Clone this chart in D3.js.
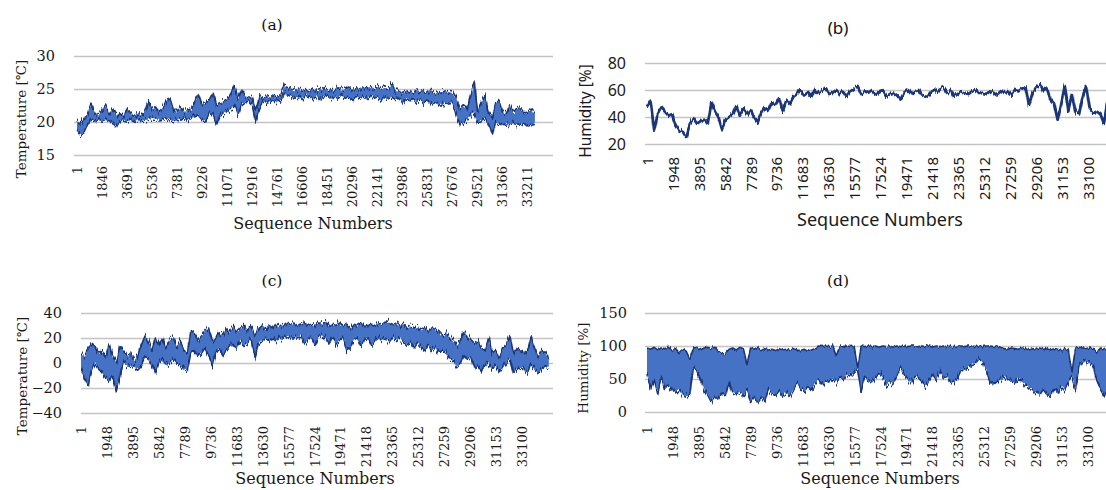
<!DOCTYPE html>
<html>
<head>
<meta charset="utf-8">
<script src="https://cdn.jsdelivr.net/npm/d3@7"></script>
<style>
  body { margin: 0; background: #fff; }
</style>
</head>
<body>
<svg id="chart" width="1106" height="490"></svg>
<script>
// (a) indoor temperature, one high/low pair every 264 sequence numbers
const tempInStep = 264;
const tempInHigh = [20.3,19.6,20.6,21.2,22.8,21.3,21.0,21.8,22.4,21.1,22.0,21.0,21.4,21.0,22.0,21.2,21.0,21.3,21.1,21.5,
  23.2,22.0,22.4,21.6,22.2,23.3,23.5,22.0,21.5,22.3,21.4,22.0,21.8,23.2,24.2,22.6,22.8,23.4,24.5,22.5,
  22.8,23.2,23.5,24.3,25.6,23.6,24.9,23.9,23.8,23.7,21.8,23.8,23.6,24.0,23.7,24.0,23.8,24.0,25.4,25.2,
  24.9,24.8,25.0,24.8,24.9,24.7,25.0,24.8,24.9,25.1,24.8,25.0,24.8,25.2,24.9,25.0,25.3,24.9,25.2,25.0,
  25.3,25.0,25.2,25.0,25.3,24.9,25.2,25.0,25.8,24.7,24.6,24.5,24.7,24.6,24.4,24.7,24.5,24.6,24.5,24.8,
  24.4,24.6,24.5,24.7,24.5,24.4,23.6,22.0,22.5,22.0,24.0,25.9,21.8,23.0,24.0,21.6,20.8,22.8,23.3,21.5,
  21.2,22.6,21.3,22.0,22.1,21.4,21.5,21.8,21.2];
const tempInLow = [18.6,18.0,18.4,19.6,20.3,20.2,20.3,20.1,20.4,20.2,19.9,19.2,20.2,20.3,20.1,20.3,20.0,20.4,20.2,20.3,
  20.4,20.6,20.5,20.3,20.4,20.5,20.3,20.2,20.4,20.3,20.5,20.2,20.6,20.8,21.0,20.3,20.0,21.3,21.0,19.6,
  21.0,21.4,21.5,21.8,22.5,21.0,22.6,23.0,23.2,22.6,20.0,22.0,23.2,23.0,23.2,23.1,23.1,23.2,24.2,24.1,
  23.8,23.6,23.8,23.4,24.0,23.8,23.5,23.9,23.4,23.8,24.0,23.5,23.8,23.6,24.0,23.6,23.8,23.3,23.9,23.6,
  23.8,23.4,23.9,23.6,23.8,23.3,23.7,23.5,23.8,23.4,23.6,22.9,23.5,23.1,23.6,23.0,23.4,22.8,23.3,22.7,
  22.9,22.6,22.6,22.7,22.9,23.0,21.2,19.6,19.8,20.3,21.0,21.5,19.9,20.2,20.6,19.7,18.1,19.9,19.7,19.6,
  19.7,19.6,19.8,19.6,19.5,19.8,19.3,19.6,19.6];

// (b) indoor humidity, one value every 268 sequence numbers
const humInStep = 268;
const humIn = [47,52,30,42,47,44,41,42,34,30,29,25,35,39,35,37,38,35,51,44,
  40,31,38,40,42,48,41,46,42,45,40,36,43,47,45,51,49,54,44,52,
  50,55,57,60,56,58,55,60,57,59,61,57,58,60,57,59,55,59,61,63,
  57,59,58,60,57,59,60,55,57,58,56,53,58,60,57,59,60,56,55,57,
  60,59,61,62,58,60,55,57,59,58,57,59,60,57,58,57,59,58,56,58,
  60,58,56,60,59,61,62,49,58,62,64,59,61,53,50,38,50,63,45,57,
  43,42,55,63,46,43,44,42,35,52,48];

// (c) outdoor temperature, one high/low pair every 266 sequence numbers
const tempOutStep = 266;
const tempOutHigh = [8,5,12,15,13,8,10,5,15,5,0,14,10,5,8,3,6,15,22,18,
  10,20,15,20,12,18,20,12,18,10,8,26,24,18,22,26,28,18,20,25,
  22,28,24,30,25,28,30,26,30,22,28,30,27,30,28,31,29,30,32,31,
  32,30,31,32,30,31,30,32,31,33,30,31,30,32,30,31,28,31,30,32,
  29,30,31,30,32,31,33,32,31,32,30,31,28,30,28,29,26,28,26,28,
  27,25,22,24,20,18,14,18,25,22,18,15,18,12,10,20,8,10,5,12,
  15,22,8,12,10,8,10,21,12,5,10,8,5];
const tempOutLow = [-5,-12,-18,-5,0,-5,-8,-12,-15,-10,-22,-10,0,-2,-3,-3,-5,-2,5,3,
  -3,-8,0,2,-2,0,3,0,-2,-5,-6,8,10,5,8,12,5,-3,8,12,
  5,10,14,14,12,18,14,16,20,5,15,18,20,18,20,17,20,19,22,20,
  20,21,22,16,18,20,14,21,22,20,15,20,14,18,20,10,12,19,20,14,
  18,20,14,18,20,18,19,17,20,18,20,17,14,16,12,16,12,10,14,10,
  12,8,10,8,3,2,-3,0,5,3,4,-5,-3,-7,-3,0,-5,-2,-7,-4,
  0,3,-8,-5,-3,-5,-8,-2,-5,-8,-5,-3,-3];

// (d) outdoor humidity, one high/low pair every 268 sequence numbers
const humOutStep = 268;
const humOutHigh = [97,95,98,94,97,96,98,93,96,90,95,92,80,97,98,94,97,98,96,98,
  92,88,89,95,97,94,98,96,72,97,95,98,93,96,94,95,93,96,94,95,
  93,96,94,93,95,92,94,96,100,99,100,99,100,85,100,99,100,99,100,68,
  100,99,100,99,100,98,100,99,100,98,100,99,100,99,100,100,99,100,99,100,
  98,100,99,100,99,100,99,100,100,99,100,100,99,100,99,100,100,99,100,98,
  96,95,97,96,95,97,96,94,96,95,97,95,96,94,96,95,93,96,94,60,
  97,98,97,96,97,96,90,97,95,94,96];
const humOutLow = [59,34,49,29,54,34,39,31,29,34,26,24,26,69,62,49,34,24,16,24,
  19,29,24,46,29,26,29,24,34,16,24,14,21,16,34,29,26,31,24,29,
  24,34,44,36,31,39,34,44,49,41,46,44,49,46,52,49,57,54,59,64,
  31,54,46,44,52,59,54,41,46,44,54,67,57,49,44,54,52,46,39,46,
  57,49,62,52,54,44,46,52,64,64,67,72,74,79,74,64,44,41,46,49,
  54,49,46,44,52,46,41,36,34,29,26,34,26,24,36,29,39,34,44,54,
  34,69,74,77,74,69,46,34,24,44,49];

// category labels shown under each chart
const seqTicksA = [1,1846,3691,5536,7381,9226,11071,12916,14761,16606,18451,20296,22141,23986,25831,27676,29521,31366,33211];
const seqTicksB = [1,1948,3895,5842,7789,9736,11683,13630,15577,17524,19471,21418,23365,25312,27259,29206,31153,33100];

const tempInTicks = [15,20,25,30];
const humInTicks = [20,40,60,80];
const tempOutTicks = [-40,-20,0,20,40];
const humOutTicks = [0,50,100,150];

const serif = '"DejaVu Serif", "Liberation Serif", serif';
const sans = '"Noto Sans", "Open Sans", sans-serif';

const toRows = (step, hi, lo) => hi.map((v, i) => ({ seq: 1 + i * step, hi: v, lo: lo ? lo[i] : v }));

const panels = [
  { key: 'a', title: '(a)', font: serif, titleX: 272, titleY: 30,
    left: 74, right: 553, x0: 77, x1: 527, lastTick: 33211, xTicks: seqTicksA, xAxisY: 164,
    yDomain: [15, 30], yRange: [155, 56], yTicks: tempInTicks, yPad: 19,
    yLabel: 'Temperature [℃]', yLabelX: 21, yLabelY: 119,
    xLabelX: 313, xLabelY: 229, rows: toRows(tempInStep, tempInHigh, tempInLow), band: true, spikyTop: true },
  { key: 'b', title: '(b)', font: sans, titleX: 838, titleY: 34,
    left: 645, right: 1106, x0: 647, x1: 1088, lastTick: 33100, xTicks: seqTicksB, xAxisY: 155,
    yDomain: [20, 80], yRange: [144, 63], yTicks: humInTicks, yPad: 19,
    yLabel: 'Humidity [%]', yLabelX: 586, yLabelY: 111,
    xLabelX: 880, xLabelY: 226, rows: toRows(humInStep, humIn), band: false },
  { key: 'c', title: '(c)', font: serif, titleX: 272, titleY: 286,
    left: 81, right: 553, x0: 81, x1: 522, lastTick: 33100, xTicks: seqTicksB, xAxisY: 424,
    yDomain: [-40, 40], yRange: [413, 313], yTicks: tempOutTicks, yPad: 19,
    yLabel: 'Temperature [℃]', yLabelX: 22, yLabelY: 376,
    xLabelX: 315, xLabelY: 484, rows: toRows(tempOutStep, tempOutHigh, tempOutLow), band: true, spikyTop: true },
  { key: 'd', title: '(d)', font: serif, titleX: 838, titleY: 286,
    left: 645, right: 1106, x0: 647, x1: 1088, lastTick: 33100, xTicks: seqTicksB, xAxisY: 424,
    yDomain: [0, 150], yRange: [412, 313], yTicks: humOutTicks, yPad: 18,
    yLabel: 'Humidity [%]', yLabelX: 583, yLabelY: 368,
    xLabelX: 880, xLabelY: 484, rows: toRows(humOutStep, humOutHigh, humOutLow), band: true, spikyTop: false }
];

const svg = d3.select('#chart');
const defs = svg.append('defs');

// dense-sampling look: vertical jitter on the drawn series
const addJitter = (id, freq, scale, seed) => {
  const f = defs.append('filter').attr('id', id)
    .attr('x', '-2%').attr('y', '-40%').attr('width', '104%').attr('height', '180%');
  f.append('feTurbulence')
    .attr('type', 'fractalNoise').attr('baseFrequency', freq)
    .attr('numOctaves', 2).attr('seed', seed).attr('result', 'noise');
  f.append('feColorMatrix').attr('in', 'noise').attr('type', 'matrix')
    .attr('values', '0 0 0 0 0.5  0 1 0 0 0  0 0 0 0 0  0 0 0 0 1').attr('result', 'shift');
  f.append('feDisplacementMap').attr('in', 'SourceGraphic').attr('in2', 'shift')
    .attr('scale', scale).attr('xChannelSelector', 'R').attr('yChannelSelector', 'G');
};
addJitter('rough', '0.5 0.06', 6, 7);
addJitter('spiky', '0.8 0.04', 12, 3);
addJitter('wiggle', '0.6 0.05', 7, 11);

panels.forEach(p => {
  const x = d3.scaleLinear().domain([1, p.lastTick]).range([p.x0, p.x1]);
  const y = d3.scaleLinear().domain(p.yDomain).range(p.yRange);
  const isSans = p.key === 'b';
  const g = svg.append('g').attr('class', `panel-${p.key}`).style('font-family', p.font);

  // y axis = gridlines + labels
  const yAxis = g.append('g')
    .attr('transform', `translate(${p.left},0)`)
    .call(d3.axisLeft(y).tickValues(p.yTicks).tickSize(-(p.right - p.left)).tickPadding(p.yPad));
  yAxis.select('.domain').remove();
  yAxis.selectAll('line').attr('stroke', '#c4c4c4').attr('stroke-width', 1.3);
  yAxis.selectAll('text')
    .attr('fill', '#1a1a1a')
    .style('font-family', p.font)
    .style('font-size', isSans ? '16px' : '14.5px');

  // x axis labels, rotated
  const xAxis = g.append('g')
    .attr('transform', `translate(0,${p.xAxisY})`)
    .call(d3.axisBottom(x).tickValues(p.xTicks).tickSize(0).tickFormat(d3.format('d')));
  xAxis.select('.domain').remove();
  xAxis.selectAll('text')
    .attr('transform', 'rotate(-90)')
    .attr('x', -2)
    .attr('y', 0)
    .attr('dy', '0.35em')
    .attr('fill', '#1a1a1a')
    .style('text-anchor', 'end')
    .style('font-family', p.font)
    .style('font-size', isSans ? '15px' : '13px');

  defs.append('clipPath').attr('id', `clip-${p.key}`)
    .append('rect')
    .attr('x', p.left).attr('y', p.yRange[1] - 20)
    .attr('width', p.right - p.left).attr('height', p.yRange[0] - p.yRange[1] + 40);

  const plot = g.append('g').attr('clip-path', `url(#clip-${p.key})`);

  if (p.band) {
    const area = d3.area().x(d => x(d.seq)).y0(d => y(d.lo)).y1(d => y(d.hi));
    const edge = k => d3.line().x(d => x(d.seq)).y(d => y(d[k]));
    plot.append('g').attr('filter', 'url(#rough)')
      .append('path').datum(p.rows)
      .attr('d', area)
      .attr('fill', '#4472C4');
    plot.append('path').datum(p.rows)
      .attr('filter', p.spikyTop ? 'url(#spiky)' : 'url(#rough)')
      .attr('d', edge('hi'))
      .attr('fill', 'none')
      .attr('stroke', '#1C3676')
      .attr('stroke-width', 1.6)
      .attr('stroke-linejoin', 'round');
    plot.append('path').datum(p.rows)
      .attr('filter', 'url(#spiky)')
      .attr('d', edge('lo'))
      .attr('fill', 'none')
      .attr('stroke', '#1C3676')
      .attr('stroke-width', 1.6)
      .attr('stroke-linejoin', 'round');
  } else {
    plot.append('path').datum(p.rows)
      .attr('filter', 'url(#wiggle)')
      .attr('d', d3.line().x(d => x(d.seq)).y(d => y(d.hi)))
      .attr('fill', 'none')
      .attr('stroke', '#1C3676')
      .attr('stroke-width', 2.8)
      .attr('stroke-linejoin', 'round');
  }

  // titles
  g.append('text')
    .attr('x', p.titleX).attr('y', p.titleY)
    .attr('text-anchor', 'middle')
    .attr('fill', '#111')
    .style('font-size', isSans ? '17px' : '15.5px')
    .text(p.title);

  g.append('text')
    .attr('transform', `translate(${p.yLabelX},${p.yLabelY}) rotate(-90)`)
    .attr('text-anchor', 'middle')
    .attr('dy', '0.35em')
    .attr('fill', '#1a1a1a')
    .style('font-size', isSans ? '15.5px' : '13.5px')
    .text(p.yLabel);

  g.append('text')
    .attr('x', p.xLabelX).attr('y', p.xLabelY)
    .attr('text-anchor', 'middle')
    .attr('fill', '#1a1a1a')
    .style('font-size', isSans ? '18px' : '16px')
    .text('Sequence Numbers');
});
</script>
</body>
</html>
